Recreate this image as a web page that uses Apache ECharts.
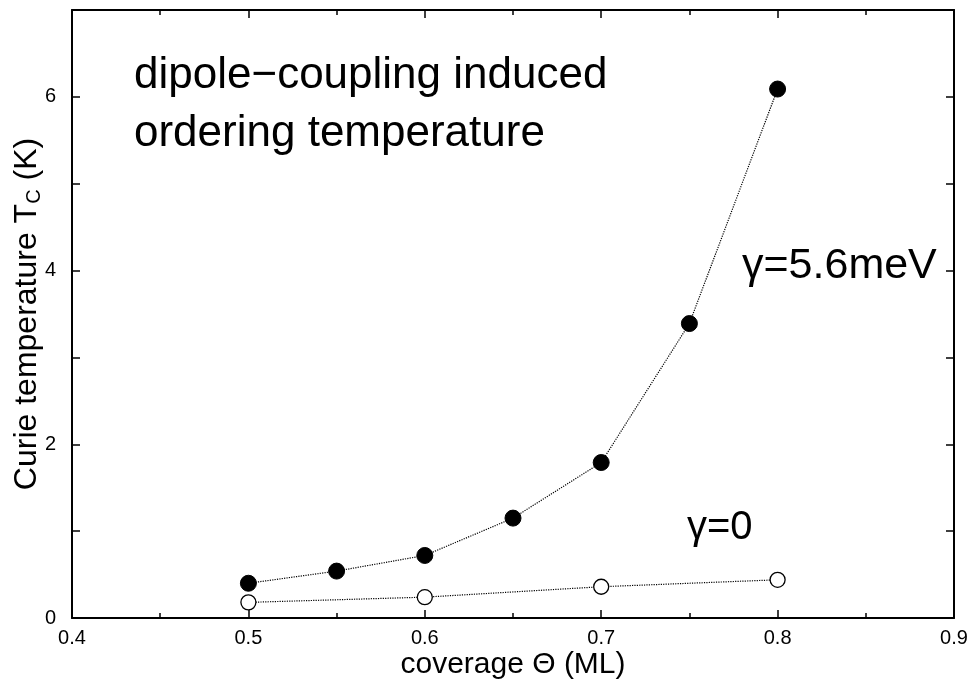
<!DOCTYPE html>
<html>
<head>
<meta charset="utf-8">
<script src="https://cdn.jsdelivr.net/npm/echarts@6/dist/echarts.min.js"></script>
<style>
  html, body { margin: 0; padding: 0; background: #fff; }
  #chart { width: 970px; height: 680px; }
</style>
</head>
<body>
<div id="chart"></div>
<script>
// coverage values (ML)
const coverage = [0.5, 0.55, 0.6, 0.65, 0.7, 0.75, 0.8];
// gamma = 5.6 meV, filled circles
const tcDipole = [0.40, 0.54, 0.72, 1.15, 1.79, 3.39, 6.09];
// gamma = 0, open circles
const coverageZero = [0.5, 0.6, 0.7, 0.8];
const tcZero = [0.18, 0.24, 0.36, 0.44];

const chart = echarts.init(document.getElementById("chart"));

const font = "Liberation Sans, Arial, Helvetica, sans-serif";
const tickCommon = {
  axisLine: { show: true, onZero: false, lineStyle: { color: "#000", width: 2 } },
  axisTick: { show: true, inside: true, length: 8, lineStyle: { color: "#000", width: 1.5 } },
  minorTick: { show: true, splitNumber: 2, length: 5, lineStyle: { color: "#000", width: 1.5 } },
  splitLine: { show: false },
  minorSplitLine: { show: false },
};

const option = {
  animation: false,
  backgroundColor: "#fff",
  grid: {
    left: 72, right: 16, top: 10, bottom: 62,
    containLabel: false,
    outerBoundsMode: "none",
  },
  xAxis: [
    {
      type: "value",
      min: 0.4,
      max: 0.9,
      interval: 0.1,
      position: "bottom",
      ...tickCommon,
      axisLabel: {
        color: "#000", fontSize: 20, fontFamily: font, margin: 10,
        formatter: (v) => v.toFixed(1),
      },
      name: "coverage \u0398 (ML)",
      nameLocation: "middle",
      nameGap: 32,
      nameMoveOverlap: false,
      nameTextStyle: { color: "#000", fontSize: 30, fontFamily: font },
    },
    {
      type: "value",
      min: 0.4,
      max: 0.9,
      interval: 0.1,
      position: "top",
      ...tickCommon,
      axisLabel: { show: false },
    },
  ],
  yAxis: [
    {
      type: "value",
      min: 0,
      max: 7,
      interval: 1,
      position: "left",
      ...tickCommon,
      minorTick: { show: false },
      axisLabel: {
        color: "#000", fontSize: 20, fontFamily: font, margin: 16,
        formatter: (v) => (v % 2 === 0 ? String(v) : ""),
      },
      name: "{a|Curie temperature T}{s|C}{a| (K)}",
      nameLocation: "middle",
      nameGap: 28,
      nameRotate: 90,
      nameMoveOverlap: false,
      nameTextStyle: {
        rich: {
          a: { color: "#000", fontSize: 32, fontFamily: font },
          s: { color: "#000", fontSize: 20, fontFamily: font, padding: [14, 0, 0, 0] },
        },
      },
    },
    {
      type: "value",
      min: 0,
      max: 7,
      interval: 1,
      position: "right",
      ...tickCommon,
      minorTick: { show: false },
      axisLabel: { show: false },
    },
  ],
  series: [
    {
      name: "gamma=0",
      type: "line",
      data: coverageZero.map((x, i) => [x, tcZero[i]]),
      symbol: "circle",
      symbolSize: 15,
      lineStyle: { color: "#000", width: 1.2, type: "dotted" },
      itemStyle: { color: "#fff", borderColor: "#000", borderWidth: 1.3 },
      z: 3,
    },
    {
      name: "gamma=5.6meV",
      type: "line",
      data: coverage.map((x, i) => [x, tcDipole[i]]),
      symbol: "circle",
      symbolSize: 16,
      lineStyle: { color: "#000", width: 1.2, type: "dotted" },
      itemStyle: { color: "#000", borderColor: "#000", borderWidth: 1 },
      z: 4,
    },
  ],
  graphic: [
    {
      type: "text",
      left: 134,
      top: 47,
      style: {
        text: "dipole\u2212coupling induced\nordering temperature",
        font: "44px " + font,
        lineHeight: 58,
        fill: "#000",
      },
    },
    {
      type: "text",
      left: 742,
      top: 245,
      style: { text: "\u03b3=5.6meV", font: "43px " + font, fill: "#000" },
    },
    {
      type: "text",
      left: 687,
      top: 508,
      style: { text: "\u03b3=0", font: "40px " + font, fill: "#000" },
    },
  ],
};

chart.setOption(option);
window.addEventListener("resize", () => {
  chart.resize();
});
</script>
</body>
</html>
